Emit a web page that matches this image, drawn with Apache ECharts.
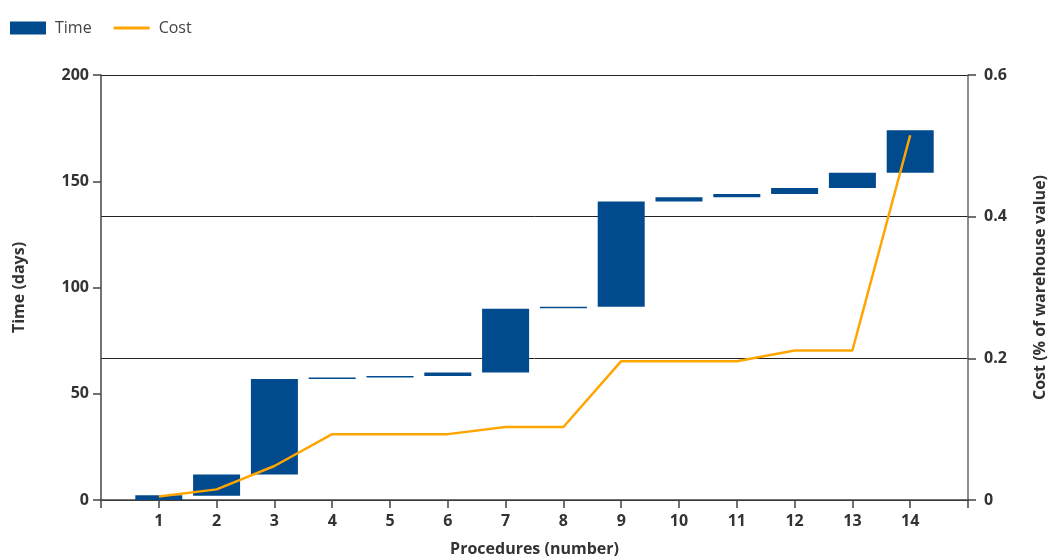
<!DOCTYPE html>
<html>
<head>
<meta charset="utf-8">
<script src="https://cdn.jsdelivr.net/npm/echarts@6/dist/echarts.min.js"></script>
<style>
html,body{margin:0;padding:0;background:#fff;}
#chart{width:1048px;height:558px;}
</style>
</head>
<body>
<div id="chart"></div>
<script>
// Procedures (x positions)
var procedures = [1, 2, 3, 4, 5, 6, 7, 8, 9, 10, 11, 12, 13, 14];
// Cumulative time (days): start and end of each procedure
var timeStart = [0, 2, 12, 57, 57.7, 58.4, 60, 90.2, 91, 140.5, 142.5, 144, 146.8, 154];
var timeEnd   = [2.2, 12, 57, 57.7, 58.4, 60, 90, 91, 140.5, 142.5, 144, 146.8, 154, 174];
// Cumulative cost (% of warehouse value)
var cost = [0.005, 0.015, 0.048, 0.093, 0.093, 0.093, 0.103, 0.103, 0.196, 0.196, 0.196, 0.211, 0.211, 0.515];
// Axis ticks
var leftTicks = [0, 50, 100, 150, 200];
var rightTicks = [0, 0.2, 0.4, 0.6];

var timeData = procedures.map(function (p, i) { return [p, timeStart[i], timeEnd[i]]; });
var costData = procedures.map(function (p, i) { return [p, cost[i]]; });

var FONT = '"Open Sans", "Noto Sans", sans-serif';
var labelStyle = { fontFamily: FONT, fontWeight: 'bold', fontSize: 16, color: '#333' };
var BLUE = '#004A8D';
var ORANGE = '#FFA500';

var chart = echarts.init(document.getElementById('chart'));
chart.setOption({
  animation: false,
  backgroundColor: '#fff',
  legend: {
    left: 5, top: 15,
    itemWidth: 36, itemHeight: 13, itemGap: 22,
    textStyle: { fontFamily: FONT, fontSize: 16, color: '#444', padding: [0, 0, 0, 4] },
    data: [
      { name: 'Time', icon: 'rect', itemStyle: { color: BLUE } },
      { name: 'Cost', icon: 'path://M0,5 L36,5 L36,8 L0,8 Z', itemStyle: { color: ORANGE } }
    ]
  },
  grid: { left: 101, right: 80, top: 75, bottom: 58, outerBoundsMode: 'none', containLabel: false },
  xAxis: {
    type: 'value', min: 0, max: 15, interval: 1,
    name: 'Procedures (number)', nameLocation: 'middle', nameGap: 41,
    nameTextStyle: labelStyle,
    axisLine: { show: true, onZero: false, lineStyle: { color: '#444', width: 1.5 } },
    axisTick: { show: true, length: 8, lineStyle: { color: '#444', width: 1.5 } },
    axisLabel: Object.assign({ margin: 13, formatter: function (v) { return (v >= 1 && v <= 14) ? String(v) : ''; } }, labelStyle),
    splitLine: { show: false }
  },
  yAxis: [{
    type: 'value', min: leftTicks[0], max: leftTicks[leftTicks.length - 1], interval: 50,
    position: 'left',
    name: 'Time (days)', nameLocation: 'middle', nameGap: 74,
    nameTextStyle: labelStyle,
    axisLine: { show: true, lineStyle: { color: '#444', width: 1.5 } },
    axisTick: { show: true, length: 8, lineStyle: { color: '#444', width: 1.5 } },
    axisLabel: Object.assign({ margin: 12 }, labelStyle),
    splitLine: { show: false }
  }, {
    type: 'value', min: rightTicks[0], max: rightTicks[rightTicks.length - 1], interval: 0.2,
    position: 'right',
    name: 'Cost (% of warehouse value)', nameLocation: 'middle', nameGap: 64,
    nameTextStyle: labelStyle,
    axisLine: { show: true, lineStyle: { color: '#666', width: 1.5 } },
    axisTick: { show: true, length: 8, lineStyle: { color: '#444', width: 1.5 } },
    axisLabel: Object.assign({ margin: 16 }, labelStyle),
    splitLine: { show: true, lineStyle: { color: '#222', width: 1 } }
  }],
  series: [{
    name: 'Time', type: 'custom', yAxisIndex: 0,
    itemStyle: { color: BLUE },
    encode: { x: 0, y: [1, 2] },
    renderItem: function (params, api) {
      var x = api.value(0);
      var p0 = api.coord([x, api.value(1)]);
      var p1 = api.coord([x, api.value(2)]);
      var w = 47;
      return {
        type: 'rect',
        shape: { x: p0[0] - w / 2, y: p1[1], width: w, height: p0[1] - p1[1] },
        style: { fill: BLUE }
      };
    },
    data: timeData
  }, {
    name: 'Cost', type: 'line', yAxisIndex: 1,
    symbol: 'none', showSymbol: false,
    lineStyle: { color: ORANGE, width: 2.5 },
    itemStyle: { color: ORANGE },
    data: costData, z: 5
  }]
});
</script>
</body>
</html>
